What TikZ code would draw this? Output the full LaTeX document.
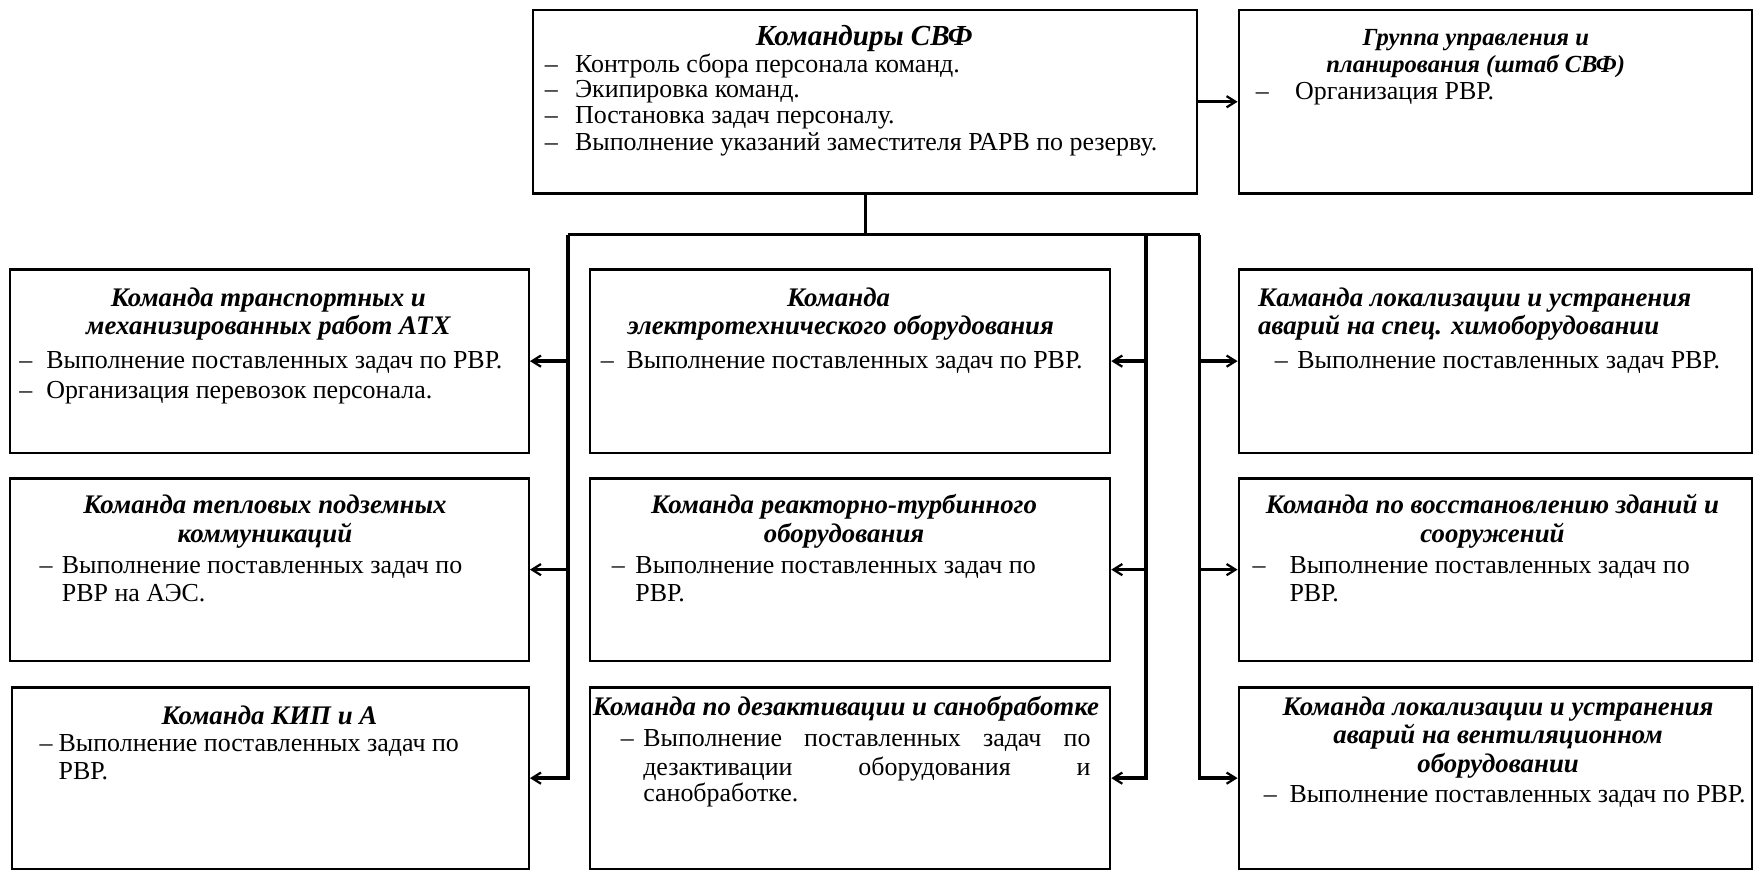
\documentclass[tikz,border=0pt]{standalone}
\usepackage{fontspec}
\setmainfont{Liberation Serif}
\usetikzlibrary{arrows.meta}
\newcommand\fs{\fontsize{11.6}{13}\selectfont}
\newcommand\fh{\fontsize{12}{13}\selectfont}
\begin{document}
\begin{tikzpicture}[x=0.5pt,y=-0.5pt,
  box/.style={draw,line width=1pt,anchor=north west,inner sep=0pt},
  conn/.style={line width=1.5pt},
  arr/.style={conn,-{Straight Barb[length=4pt,width=5pt,line width=1pt]}},
  tl/.style={anchor=mid west,inner sep=0pt,font=\fs,yshift=-1.5pt},
  hd/.style={anchor=mid,inner sep=0pt,font=\fh\bfseries\itshape,yshift=-1.5pt},
  hl/.style={anchor=mid west,inner sep=0pt,font=\fh\bfseries\itshape,yshift=-1.5pt}]
\useasboundingbox (0,0) rectangle (1568,778);
% boxes
\node[box,minimum width=297pt,minimum height=82pt] (top) at (476,8) {};
\node[box,minimum width=229.5pt,minimum height=82pt] (grp) at (1107,8) {};
\node[box,minimum width=232pt,minimum height=82pt] (b3) at (8,240) {};
\node[box,minimum width=232.5pt,minimum height=82pt] (b4) at (527,240) {};
\node[box,minimum width=229.5pt,minimum height=82pt] (b5) at (1107,240) {};
\node[box,minimum width=232pt,minimum height=81.5pt] (b6) at (8,427) {};
\node[box,minimum width=232.5pt,minimum height=81.5pt] (b7) at (527,427) {};
\node[box,minimum width=229.5pt,minimum height=81.5pt] (b8) at (1107,427) {};
\node[box,minimum width=231pt,minimum height=81pt] (b9) at (10,614) {};
\node[box,minimum width=232.5pt,minimum height=81pt] (b10) at (527,614) {};
\node[box,minimum width=229.5pt,minimum height=81pt] (b11) at (1107,614) {};
% box 1 text
\node[hd,font=\fontsize{13}{14}\selectfont\bfseries\itshape] (t1a) at (773,33) {Командиры СВФ};
\node[tl] (d1b) at (487,57) {–}; \node[tl] (t1b) at (514,57) {Контроль сбора персонала команд.};
\node[tl] (d1c) at (487,80) {–}; \node[tl] (t1c) at (514,80) {Экипировка команд.};
\node[tl] (d1d) at (487,103) {–}; \node[tl] (t1d) at (514,103) {Постановка задач персоналу.};
\node[tl] (d1e) at (487,127) {–}; \node[tl] (t1e) at (514,127) {Выполнение указаний заместителя РАРВ по резерву.};
% box 2
\node[hd,font=\fontsize{11}{12}\selectfont\bfseries\itshape] (t2a) at (1320,33) {Группа управления и};
\node[hd,font=\fontsize{11}{12}\selectfont\bfseries\itshape] (t2b) at (1320,57) {планирования (штаб СВФ)};
\node[tl] (d2c) at (1123,81) {–}; \node[tl] (t2c) at (1158,81) {Организация РВР.};
% box 3
\node[hd] (t3a) at (240,267) {Команда транспортных и};
\node[hd] (t3b) at (240,292) {механизированных работ АТХ};
\node[tl] (d3c) at (17,322) {–}; \node[tl] (t3c) at (41,322) {Выполнение поставленных задач по РВР.};
\node[tl] (d3d) at (17,349) {–}; \node[tl] (t3d) at (41,349) {Организация перевозок персонала.};
% box 4
\node[hd] (t4a) at (750,267) {Команда};
\node[hd] (t4b) at (752,292) {электротехнического оборудования};
\node[tl] (d4c) at (537,322) {–}; \node[tl] (t4c) at (560,322) {Выполнение поставленных задач по РВР.};
% box 5
\node[hl] (t5a) at (1125,267) {Каманда локализации и устранения};
\node[hl] (t5b) at (1125,292) {аварий на спец. химоборудовании};
\node[tl] (d5c) at (1140,322) {–}; \node[tl] (t5c) at (1160,322) {Выполнение поставленных задач РВР.};
% box 6
\node[hd] (t6a) at (237,452) {Команда тепловых подземных};
\node[hd] (t6b) at (237,478) {коммуникаций};
\node[tl] (d6c) at (35,505) {–}; \node[tl] (t6c) at (55,505) {Выполнение поставленных задач по};
\node[tl] (t6d) at (55,530) {РВР на АЭС.};
% box 7
\node[hd] (t7a) at (755,452) {Команда реакторно-турбинного};
\node[hd] (t7b) at (755,478) {оборудования};
\node[tl] (d7c) at (547,505) {–}; \node[tl] (t7c) at (568,505) {Выполнение поставленных задач по};
\node[tl] (t7d) at (568,530) {РВР.};
% box 8
\node[hd] (t8a) at (1335,452) {Команда по восстановлению зданий и};
\node[hd] (t8b) at (1335,478) {сооружений};
\node[tl] (d8c) at (1120,505) {–}; \node[tl] (t8c) at (1153,505) {Выполнение поставленных задач по};
\node[tl] (t8d) at (1153,530) {РВР.};
% box 9
\node[hd] (t9a) at (241,640) {Команда КИП и А};
\node[tl] (d9b) at (35,665) {–}; \node[tl] (t9b) at (52,665) {Выполнение поставленных задач по};
\node[tl] (t9c) at (52,690) {РВР.};
% box 10
\node[hl] (t10a) at (530,632) {Команда по дезактивации и санобработке};
\node[tl] (d10b) at (555,660) {–};
\node[tl] (t10b) at (575,660) {\makebox[200pt][s]{Выполнение\hfill поставленных\hfill задач\hfill по}};
\node[tl] (t10c) at (575,686) {\makebox[200pt][s]{дезактивации\hfill оборудования\hfill и}};
\node[tl] (t10d) at (575,709) {санобработке.};
% box 11
\node[hd] (t11a) at (1340,632) {Команда локализации и устранения};
\node[hd] (t11b) at (1340,657) {аварий на вентиляционном};
\node[hd] (t11c) at (1340,683) {оборудовании};
\node[tl] (d11d) at (1130,710) {–}; \node[tl] (t11d) at (1153,710) {Выполнение поставленных задач по РВР.};
% connectors
\coordinate (L) at (508,210);
\coordinate (M) at (1025,210);
\coordinate (R) at (1073,210);
\draw[arr] (top.east) -- (grp.west);
\draw[conn] (top.south) -- (top.south |- L);
\draw[conn] (L) -- (R);
\draw[arr] (L) |- (b9.east);
\draw[arr] (L |- b3.east) -- (b3.east);
\draw[arr] (L |- b6.east) -- (b6.east);
\draw[arr] (M) |- (b10.east);
\draw[arr] (M |- b4.east) -- (b4.east);
\draw[arr] (M |- b7.east) -- (b7.east);
\draw[arr] (R) |- (b11.west);
\draw[arr] (R |- b5.west) -- (b5.west);
\draw[arr] (R |- b8.west) -- (b8.west);
\end{tikzpicture}
\end{document}
